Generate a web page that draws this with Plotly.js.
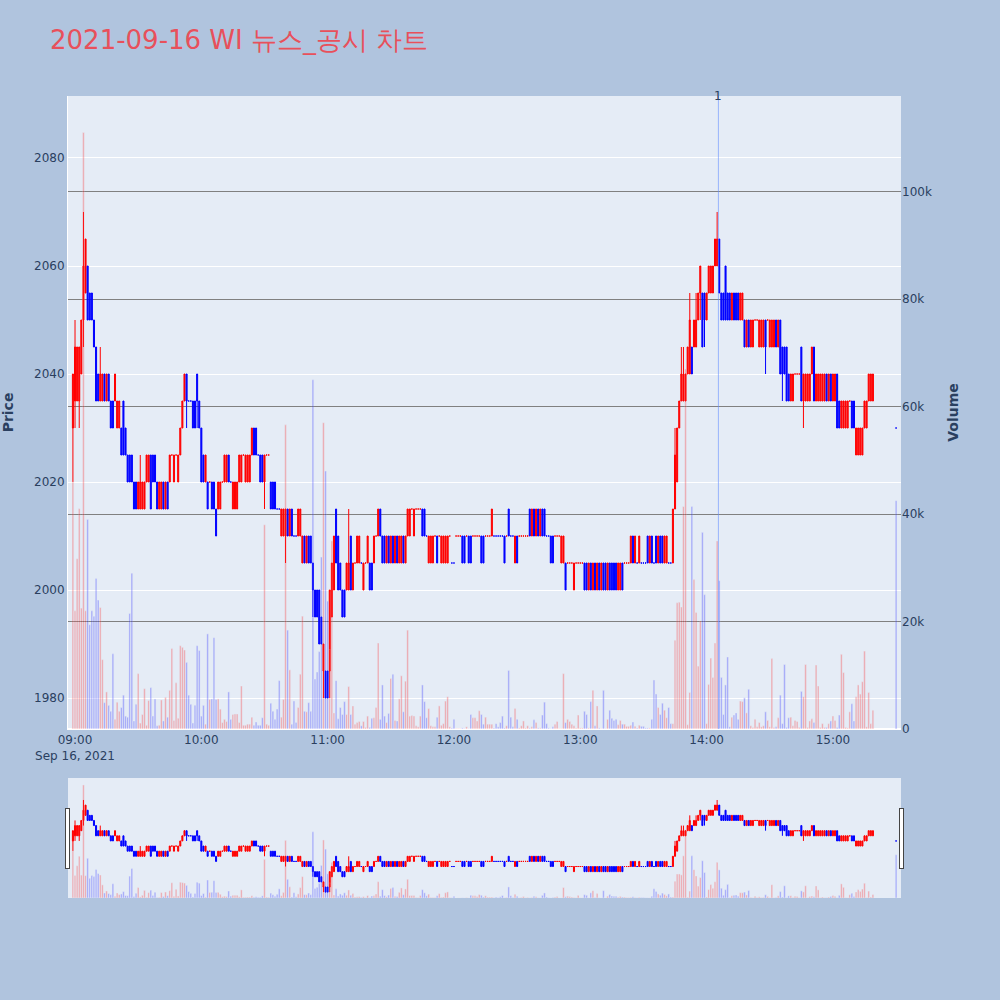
<!DOCTYPE html>
<html>
<head>
<meta charset="utf-8">
<script src="https://cdn.plot.ly/plotly-3.0.1.min.js"></script>
<style>html,body{margin:0;padding:0;background:#B0C4DE;}</style>
</head>
<body>
<div id="chart" style="width:1000px;height:1000px;"></div>
<script>
// ---- data: one candle per minute, 08:59 .. 15:19, then 15:30 closing ----
const sessionDate = '2021-09-16';
const firstMinute = '08:59';
const regularCount = 381;      // 08:59 .. 15:19
const closingTime = '15:30';
const newsTime = '2021-09-16 14:05:36';
const newsLabel = '1';

const openPrice = [
2030,2035,2035,2035,2040,2050,2055,2060,2055,2055,
2050,2045,2040,2035,2035,2040,2035,2040,2035,2035,
2035,2030,2030,2030,2035,2030,2025,2025,2025,2020,
2020,2015,2015,2015,2015,2020,2020,2025,2025,2025,
2020,2015,2015,2020,2015,2020,2020,2025,2020,2025,
2020,2025,2030,2035,2040,2035,2035,2035,2035,2040,
2035,2030,2025,2020,2020,2020,2020,2020,2015,2015,
2015,2020,2020,2020,2025,2020,2015,2015,2015,2020,
2020,2025,2020,2020,2020,2025,2030,2030,2025,2025,
2025,2020,2025,2025,2020,2020,2020,2015,2015,2010,
2010,2010,2015,2010,2015,2010,2010,2010,2010,2005,
2010,2005,2010,2010,2005,2000,2000,2000,1995,1985,
1985,1985,1985,1995,2000,2015,2010,2005,2000,2000,
2000,2000,2010,2000,2005,2005,2005,2005,2000,2005,
2005,2005,2005,2005,2010,2010,2015,2010,2010,2005,
2010,2005,2010,2005,2010,2005,2005,2010,2005,2010,
2010,2015,2010,2015,2015,2015,2015,2015,2010,2005,
2005,2005,2010,2010,2010,2005,2005,2005,2005,2010,
2005,2005,2010,2010,2010,2010,2010,2010,2010,2010,
2010,2010,2010,2010,2010,2010,2010,2010,2010,2010,
2010,2010,2010,2010,2010,2010,2010,2015,2010,2010,
2005,2010,2010,2010,2010,2010,2010,2015,2010,2015,
2010,2015,2010,2015,2015,2010,2010,2010,2010,2010,
2010,2010,2005,2005,2005,2005,2005,2005,2000,2005,
2005,2005,2005,2005,2005,2000,2005,2000,2005,2000,
2005,2000,2005,2005,2000,2005,2005,2005,2005,2000,
2000,2005,2005,2005,2005,2005,2010,2005,2005,2005,
2005,2005,2005,2010,2005,2010,2005,2010,2005,2010,
2010,2005,2005,2005,2005,2005,2015,2020,2030,2035,
2035,2035,2040,2040,2045,2045,2045,2050,2055,2055,
2055,2050,2055,2055,2055,2060,2060,2065,2055,2055,
2060,2055,2055,2050,2055,2055,2055,2050,2050,2050,
2045,2050,2045,2045,2050,2050,2045,2045,2045,2050,
2050,2045,2045,2045,2050,2045,2050,2045,2045,2045,
2040,2035,2035,2040,2040,2040,2045,2035,2035,2035,
2035,2040,2045,2035,2035,2035,2035,2035,2040,2035,
2040,2035,2035,2040,2035,2030,2030,2030,2030,2035,
2035,2035,2025,2025,2025,2025,2030,2030,2035,2035,
2035,2030];

const highPrice = [
2040,2050,2045,2045,2050,2070,2065,2060,2055,2055,
2050,2045,2040,2045,2040,2040,2040,2040,2035,2035,
2040,2035,2035,2030,2035,2030,2025,2025,2025,2020,
2020,2020,2025,2020,2020,2025,2025,2025,2025,2025,
2020,2020,2020,2020,2020,2020,2025,2025,2025,2025,
2025,2030,2035,2040,2040,2035,2035,2035,2035,2040,
2035,2030,2025,2025,2020,2020,2020,2020,2015,2020,
2020,2020,2025,2025,2025,2020,2020,2020,2020,2025,
2025,2025,2025,2025,2025,2030,2030,2030,2025,2025,
2025,2025,2025,2025,2020,2020,2020,2015,2015,2015,
2015,2015,2015,2015,2015,2010,2010,2015,2015,2010,
2010,2010,2010,2010,2005,2000,2000,2000,1995,1990,
1985,1985,2000,2005,2010,2015,2010,2005,2000,2000,
2005,2015,2010,2005,2005,2010,2010,2005,2005,2005,
2010,2005,2005,2010,2010,2015,2015,2010,2010,2010,
2010,2010,2010,2010,2010,2010,2010,2010,2010,2015,
2015,2015,2015,2015,2015,2015,2015,2015,2010,2010,
2010,2010,2010,2010,2010,2010,2010,2010,2010,2010,
2005,2005,2010,2010,2010,2010,2010,2010,2010,2010,
2010,2010,2010,2010,2010,2010,2010,2010,2010,2015,
2010,2010,2010,2010,2010,2010,2010,2015,2010,2010,
2010,2010,2010,2010,2010,2010,2010,2015,2015,2015,
2015,2015,2015,2015,2015,2010,2010,2010,2010,2010,
2010,2010,2010,2010,2005,2005,2005,2005,2005,2005,
2005,2005,2005,2005,2005,2005,2005,2005,2005,2005,
2005,2005,2005,2005,2005,2005,2005,2005,2005,2005,
2005,2005,2005,2005,2005,2010,2010,2010,2005,2010,
2005,2005,2005,2010,2010,2010,2005,2010,2010,2010,
2010,2010,2010,2005,2005,2015,2030,2030,2035,2045,
2045,2040,2045,2055,2045,2050,2055,2055,2060,2055,
2055,2055,2060,2060,2060,2065,2070,2065,2055,2055,
2060,2055,2055,2055,2055,2055,2055,2055,2055,2050,
2050,2050,2050,2050,2050,2050,2050,2050,2050,2050,
2050,2050,2050,2050,2050,2050,2050,2045,2045,2045,
2040,2040,2040,2040,2040,2040,2045,2040,2040,2040,
2040,2045,2045,2040,2040,2040,2040,2040,2040,2040,
2040,2040,2040,2040,2035,2035,2035,2035,2035,2035,
2035,2035,2030,2030,2030,2030,2035,2035,2040,2040,
2040,2030];

const lowPrice = [
2020,2030,2035,2030,2040,2045,2055,2050,2050,2050,
2045,2035,2035,2035,2035,2035,2035,2035,2030,2030,
2035,2030,2030,2025,2025,2025,2020,2020,2020,2015,
2015,2015,2015,2015,2015,2020,2020,2015,2020,2020,
2015,2015,2015,2015,2015,2015,2020,2025,2020,2025,
2020,2025,2030,2035,2030,2035,2035,2030,2030,2030,
2030,2020,2020,2020,2015,2020,2015,2015,2010,2015,
2015,2020,2020,2020,2020,2020,2015,2015,2015,2020,
2020,2025,2020,2020,2020,2025,2025,2025,2025,2020,
2020,2015,2025,2025,2015,2015,2015,2015,2015,2010,
2010,2005,2010,2010,2010,2010,2010,2010,2010,2005,
2005,2005,2005,2005,1995,1995,1995,1990,1990,1980,
1980,1980,1980,1995,2000,2005,2000,2000,1995,1995,
2000,2000,2000,2000,2005,2005,2005,2005,2000,2005,
2005,2000,2000,2005,2010,2010,2010,2005,2005,2005,
2005,2005,2005,2005,2005,2005,2005,2005,2005,2010,
2010,2015,2010,2015,2015,2015,2010,2010,2010,2005,
2005,2005,2010,2005,2010,2005,2005,2005,2005,2010,
2005,2005,2010,2010,2010,2005,2005,2010,2005,2005,
2010,2010,2010,2010,2005,2005,2010,2010,2010,2010,
2010,2010,2010,2010,2010,2005,2010,2010,2010,2010,
2005,2005,2010,2010,2010,2010,2010,2010,2010,2010,
2010,2010,2010,2010,2010,2010,2010,2005,2005,2010,
2010,2010,2005,2005,2000,2005,2005,2005,2000,2005,
2005,2005,2005,2000,2000,2000,2000,2000,2000,2000,
2000,2000,2000,2000,2000,2000,2000,2000,2000,2000,
2000,2000,2005,2005,2005,2005,2005,2005,2005,2005,
2005,2005,2005,2005,2005,2005,2005,2005,2005,2005,
2005,2005,2005,2005,2005,2005,2015,2020,2030,2035,
2035,2035,2040,2040,2040,2045,2045,2050,2050,2045,
2045,2050,2055,2055,2055,2060,2060,2055,2050,2050,
2050,2050,2050,2050,2050,2050,2050,2050,2050,2045,
2045,2045,2045,2045,2050,2050,2045,2045,2045,2040,
2050,2045,2045,2045,2045,2045,2040,2035,2040,2035,
2035,2035,2035,2040,2040,2040,2035,2030,2035,2035,
2035,2040,2035,2035,2035,2035,2035,2035,2035,2035,
2035,2035,2035,2030,2030,2030,2030,2030,2030,2035,
2030,2030,2025,2025,2025,2025,2030,2030,2035,2035,
2035,2030];

const closePrice = [
2040,2045,2045,2045,2050,2060,2065,2050,2050,2050,
2045,2035,2035,2040,2040,2035,2040,2035,2030,2030,
2040,2035,2035,2025,2025,2025,2020,2020,2020,2015,
2015,2020,2020,2020,2020,2025,2025,2015,2020,2020,
2015,2020,2020,2015,2020,2015,2025,2025,2025,2025,
2025,2030,2035,2040,2035,2035,2035,2030,2030,2035,
2030,2020,2020,2025,2015,2020,2015,2015,2010,2020,
2020,2020,2025,2025,2020,2020,2020,2020,2020,2025,
2025,2025,2025,2025,2025,2030,2025,2025,2025,2020,
2020,2025,2025,2025,2015,2015,2015,2015,2015,2015,
2015,2015,2010,2015,2010,2010,2010,2015,2015,2010,
2005,2010,2005,2005,2000,1995,1995,1990,1990,1990,
1980,1980,2000,2005,2010,2005,2000,2000,1995,1995,
2005,2005,2000,2005,2005,2010,2010,2005,2005,2005,
2010,2000,2000,2010,2010,2015,2010,2005,2005,2010,
2005,2010,2005,2010,2005,2010,2010,2005,2010,2015,
2015,2015,2015,2015,2015,2015,2010,2010,2010,2010,
2010,2010,2010,2005,2010,2010,2010,2010,2010,2010,
2005,2005,2010,2010,2010,2005,2005,2010,2005,2005,
2010,2010,2010,2010,2005,2005,2010,2010,2010,2015,
2010,2010,2010,2010,2010,2005,2010,2010,2010,2010,
2010,2005,2010,2010,2010,2010,2010,2010,2015,2010,
2015,2010,2015,2010,2010,2010,2010,2005,2005,2010,
2010,2010,2010,2010,2000,2005,2005,2005,2005,2005,
2005,2005,2005,2000,2000,2005,2000,2005,2000,2005,
2000,2005,2000,2000,2005,2000,2000,2000,2000,2005,
2005,2000,2005,2005,2005,2010,2005,2010,2005,2010,
2005,2005,2005,2005,2010,2005,2005,2005,2010,2005,
2005,2010,2010,2005,2005,2015,2025,2030,2035,2040,
2040,2040,2045,2050,2040,2050,2050,2055,2060,2045,
2050,2055,2060,2060,2060,2065,2065,2055,2050,2050,
2050,2050,2050,2055,2050,2050,2050,2055,2055,2045,
2050,2045,2050,2050,2050,2050,2050,2050,2050,2045,
2050,2050,2050,2050,2045,2050,2040,2040,2040,2035,
2035,2040,2040,2040,2040,2040,2035,2040,2040,2040,
2040,2045,2035,2040,2040,2040,2040,2040,2035,2040,
2035,2040,2040,2030,2030,2035,2035,2035,2035,2035,
2030,2030,2030,2030,2030,2030,2035,2035,2040,2040,
2040,2030];

const volume = [
46000,22000,31700,41000,22500,111000,22000,39000,19400,22000,
21000,28000,24000,22600,12900,4900,6900,4400,3300,14000,
1800,5000,3300,4000,6300,2400,2200,21500,29000,1500,
4600,10300,1100,2700,7500,700,5300,7700,2400,5600,
600,700,5400,1500,5900,2200,7200,15000,1600,8600,
2000,15500,15200,14700,12400,6300,4600,1100,4400,15500,
14600,2400,4400,900,17700,5500,5600,17000,5500,5600,
3700,1200,1800,1400,6900,1800,2700,2800,2800,1200,
8000,700,700,900,900,2200,700,1300,700,700,
2100,38000,900,700,4800,3300,1800,3700,9000,2200,
5500,56600,18400,11000,900,5200,1200,4000,10200,21000,
3300,3200,4900,3300,65000,9300,10600,14400,32000,57000,
48000,23800,14800,35000,3000,9000,1900,4000,2700,5100,
2700,7900,2700,4300,900,1200,1400,600,1400,300,
2400,300,2000,2100,4000,16000,1800,8200,2400,1200,
2900,9400,10200,1600,1500,5600,9900,3200,8900,18400,
2400,2500,2400,600,400,2400,8200,5100,2100,3800,
600,400,400,2200,4300,700,1000,5200,6000,400,
200,1800,100,100,100,200,100,400,100,2700,
2100,2100,1500,3400,2700,900,2200,900,900,900,
200,1000,400,1200,2400,200,600,10900,2200,400,
3800,1800,200,600,1500,200,600,200,400,1700,
1200,200,200,2600,5000,1000,200,100,400,900,
1400,100,100,10300,1200,1800,1400,900,600,200,
2600,200,200,3300,2700,200,5100,7200,600,4300,
200,100,7200,100,1800,3500,2000,1600,1800,800,
1600,900,900,500,500,700,1300,500,200,700,
500,500,200,200,200,1800,9100,6500,4000,2700,
4800,3500,2100,4000,1000,1000,16500,23500,23600,22700,
41400,67000,800,6800,41400,27800,21700,11700,20100,36600,
25000,1000,8300,13200,9600,16000,35000,27600,9600,2700,
8200,13400,400,2200,2600,3000,1800,5200,5100,5800,
3000,7400,600,300,1800,400,1200,400,600,3200,
1600,400,13100,300,400,2100,6300,1000,12000,300,
2100,2200,600,1600,1400,300,7000,6000,12000,300,
1500,1900,1200,11900,8000,300,1000,300,300,1000,
1500,2400,1600,300,2600,13900,10500,300,200,3200,
4700,1500,6000,8200,6500,8800,14500,400,6800,1000,
3500,42500];

// ---- time axis: consecutive minutes, plus the closing auction ----
const times = [];
(function () {
  const [hh, mm] = firstMinute.split(':').map(Number);
  for (let i = 0; i < regularCount; i++) {
    const t = hh * 60 + mm + i;
    const h = String(Math.floor(t / 60)).padStart(2, '0');
    const m = String(t % 60).padStart(2, '0');
    times.push(sessionDate + ' ' + h + ':' + m + ':00');
  }
  times.push(sessionDate + ' ' + closingTime + ':00');
})();

// volume colour follows the candle direction
const volColors = [];
(function () {
  let inc = true, prevC = null;
  for (let i = 0; i < closePrice.length; i++) {
    const o = openPrice[i], c = closePrice[i];
    if (c > o) inc = true;
    else if (c < o) inc = false;
    else if (prevC !== null && c !== prevC) inc = c > prevC;
    volColors.push(inc ? 'red' : 'blue');
    prevC = c;
  }
})();

const candle = {
  type: 'candlestick', x: times,
  open: openPrice, high: highPrice, low: lowPrice, close: closePrice,
  increasing: {line: {color: 'red', width: 1}, fillcolor: 'red'},
  decreasing: {line: {color: 'blue', width: 1}, fillcolor: 'blue'},
  xaxis: 'x', yaxis: 'y', name: 'Price'
};
const bars = {
  type: 'bar', x: times, y: volume, yaxis: 'y2', xaxis: 'x',
  marker: {color: volColors, line: {color: '#E5ECF6', width: 0.5}},
  opacity: 0.3, name: 'Volume'
};

const xRange = ['2021-09-16 08:56:40', '2021-09-16 15:32:20'];
const baseFont = '"DejaVu Sans", Verdana, sans-serif';

const layout = {
  width: 1000, height: 1000,
  paper_bgcolor: '#B0C4DE', plot_bgcolor: '#E5ECF6',
  font: {family: baseFont, color: '#2a3f5f', size: 12},
  margin: {l: 68, r: 99, t: 96, b: 271, autoexpand: false},
  showlegend: false,
  bargap: 0.2,
  title: {text: '2021-09-16 WI 뉴스_공시 차트', x: 0.05, xanchor: 'left', xref: 'container',
          y: 0.96, yanchor: 'middle', yref: 'container',
          font: {family: baseFont, size: 26, color: '#E8505B'}},
  xaxis: {type: 'date', range: xRange, showgrid: false, linecolor: 'white',
          ticks: '', zeroline: false,
          rangeslider: {visible: true, range: xRange, thickness: 0.19}},
  yaxis: {title: {text: '<b>Price</b>', font: {size: 14}, standoff: 18}, automargin: true,
          range: [1974.26, 2091.48], dtick: 20,
          gridcolor: 'white', linecolor: 'white', zeroline: false, ticks: '', side: 'left'},
  yaxis2: {title: {text: '<b>Volume</b>', font: {size: 14}, standoff: 17}, automargin: true,
           overlaying: 'y', side: 'right',
           range: [0, 117800], dtick: 20000, showgrid: true, gridcolor: 'gray', gridwidth: 1,
           zeroline: true, zerolinecolor: 'white', zerolinewidth: 2, ticks: ''},
  shapes: [{type: 'line', xref: 'x', yref: 'paper', x0: newsTime, x1: newsTime, y0: 0, y1: 1,
            line: {color: 'rgba(100,140,255,0.6)', width: 1}}],
  annotations: [{xref: 'x', yref: 'paper', x: newsTime, y: 1, yanchor: 'middle', text: newsLabel,
                 showarrow: false, font: {size: 12, color: '#2a3f5f'}}]
};

Plotly.newPlot('chart', [candle, bars], layout, {displayModeBar: false, staticPlot: true});
</script>
</body>
</html>
